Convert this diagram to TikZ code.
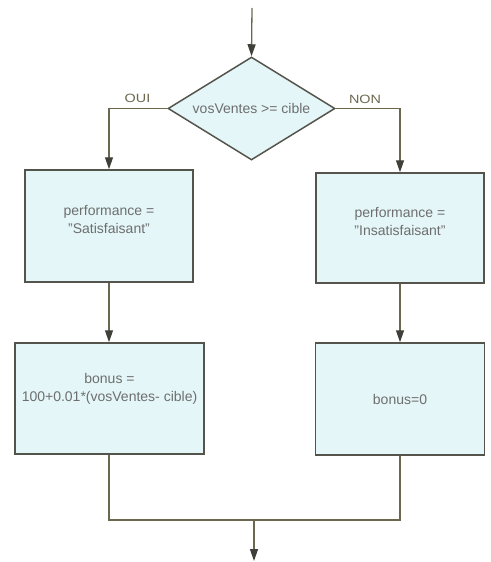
\documentclass[tikz,border=0pt]{standalone}
\usepackage{fontspec}
\setmainfont{Liberation Sans}
\usetikzlibrary{shapes.geometric,arrows.meta}
\definecolor{boxfill}{RGB}{228,246,248}
\definecolor{boxline}{RGB}{84,84,76}
\definecolor{connc}{RGB}{108,104,80}
\definecolor{txt}{RGB}{110,110,110}
\definecolor{tipc}{RGB}{64,64,58}
\begin{document}
\begin{tikzpicture}[x=1pt,y=-1pt,
 every node/.style={font=\fontsize{14}{18}\selectfont, text=txt},
 procbox/.style={draw=boxline, line width=1.5pt, fill=boxfill, rectangle, inner sep=0pt, align=center, minimum width=168pt, minimum height=112pt},
 decbox/.style={draw=boxline, line width=1.5pt, fill=boxfill, diamond, aspect=1.6, inner sep=0pt, minimum width=167pt, minimum height=103pt},
 conn/.style={draw=connc, line width=1.3pt},
 arr/.style={conn, -{Triangle[length=12pt,width=8pt,color=tipc]}},
 lbl/.style={font=\fontsize{12}{14}\selectfont, text=connc},
]
\useasboundingbox (0,0) rectangle (490,562);
\coordinate (start) at (252,8);
\node[decbox] (d) at (251.5,108.5) {vosVentes >= cible};
\node[procbox, text depth=13pt] (s1) at (109,226) {performance =\\"Satisfaisant"};
\node[procbox, minimum height=110pt, text depth=14pt] (i1) at (400,228) {performance =\\"Insatisfaisant"};
\node[procbox, minimum width=189pt, minimum height=111pt, text depth=23pt] (s2) at (109.5,398.5) {bonus =\\100+0.01*(vosVentes- cible)};
\node[procbox, minimum width=169pt] (i2) at (400,399) {bonus=0};
\coordinate (join) at (254,520);
\coordinate (end) at (254,561);
\node[lbl] (oui) at (137.5,98.5) {\scalebox{1.2}[1]{OUI}};
\node[lbl] (non) at (365,99) {\scalebox{1.2}[1]{NON}};
\draw[arr] (start) -- (d.north);
\draw[arr] (d.west) -| (s1.north);
\draw[arr] (d.east) -| (i1.north);
\draw[arr] (s1.south) -- (s1.south |- s2.north);
\draw[arr] (i1.south) -- (i2.north);
\draw[conn] (s1.south |- s2.south) |- (i2.south |- join) -- (i2.south);
\draw[arr] (join) -- (end);
\end{tikzpicture}
\end{document}
